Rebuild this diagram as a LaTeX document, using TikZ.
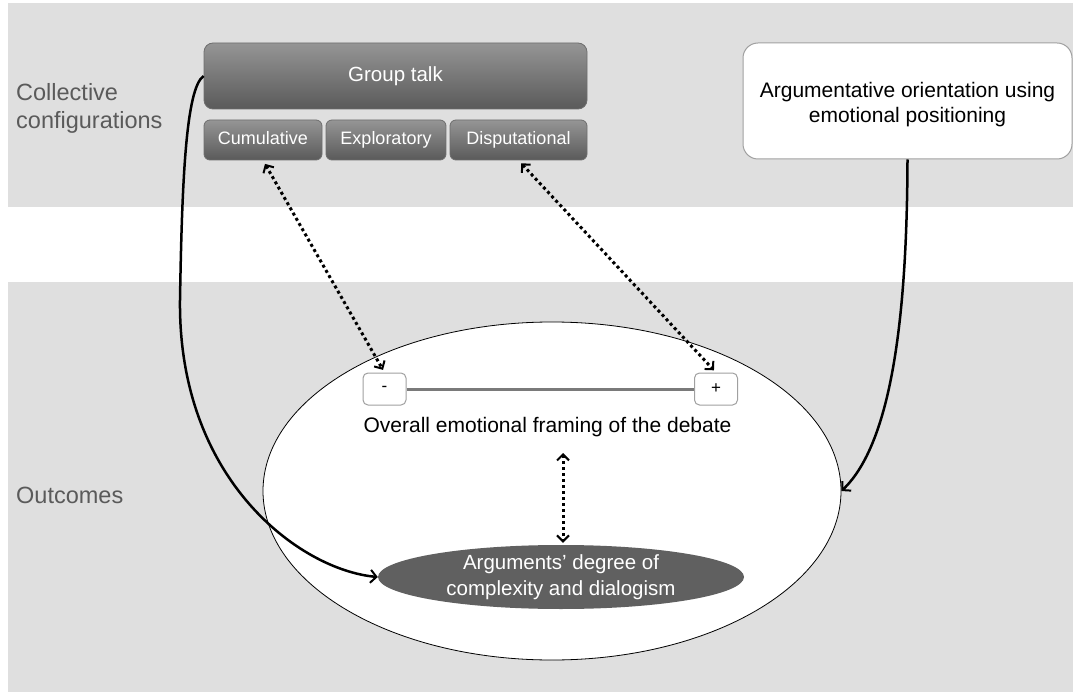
\documentclass[tikz,border=0pt]{standalone}
\usepackage{fontspec}
\setmainfont{Liberation Sans}
\usetikzlibrary{arrows.meta,shapes.geometric}
\definecolor{band}{HTML}{DFDFDF}
\definecolor{sidetxt}{HTML}{5A5A5A}
\definecolor{gtop}{HTML}{959595}
\definecolor{gbot}{HTML}{5A5A5A}
\definecolor{gedge}{HTML}{6E6E6E}
\definecolor{darkell}{HTML}{606060}
\definecolor{boxedge}{HTML}{A0A0A0}
\definecolor{scaleline}{HTML}{7A7A7A}
\tikzset{
  sidelabel/.style={anchor=west,inner sep=0pt,text=sidetxt,align=left,
    font=\fontsize{23.5}{28}\selectfont},
  graybox/.style={draw=gedge,line width=0.8pt,rounded corners=9pt,
    top color=gtop,bottom color=gbot,text=white,inner sep=0pt},
  subbox/.style={graybox,rounded corners=6pt,minimum height=40pt,
    text height=13pt,text depth=4pt,font=\fontsize{18}{21}\selectfont},
  whitebox/.style={draw=boxedge,line width=1pt,fill=white,rounded corners=15pt,
    inner sep=0pt},
  boxtext/.style={align=center,inner sep=0pt,yshift=-4pt,
    font=\fontsize{21}{25}\selectfont},
  pmbox/.style={draw=boxedge,line width=1pt,fill=white,rounded corners=5pt,
    minimum width=43pt,minimum height=32pt,inner sep=0pt,
    font=\fontsize{17}{20}\selectfont},
  dotarrow/.style={line width=3pt,dash pattern=on 3pt off 3pt,
    {Straight Barb[length=6pt,width=12pt,line width=2pt]}-{Straight Barb[length=6pt,width=12pt,line width=2pt]}},
  solidarrow/.style={line width=2.5pt,-{Straight Barb[length=6pt,width=13pt,line width=2pt]}}
}
\begin{document}
\begin{tikzpicture}[x=1pt,y=-1pt]
\useasboundingbox (0,0) rectangle (1073,692);
\fill[white] (0,0) rectangle (1073,692);
\fill[band] (8,3) rectangle (1073,207);
\fill[band] (8,282) rectangle (1073,692);

\node[sidelabel] (coll) at (16,108) {Collective\\configurations};
\node[sidelabel] (outc) at (16,495) {Outcomes};

% group talk
\node[graybox,minimum width=383pt,minimum height=66pt,
  font=\fontsize{20.5}{24}\selectfont] (gt) at (395.5,76) {Group talk};
\node[subbox,minimum width=118pt] (cum) at (263,140) {Cumulative};
\node[subbox,minimum width=120pt] (exp) at (386,140) {Exploratory};
\node[subbox,minimum width=137pt] (dis) at (518.5,140) {Disputational};

% right box
\node[whitebox,minimum width=329pt,minimum height=116pt,
  label={[boxtext]center:Argumentative orientation using\\emotional positioning}]
  (arg) at (907.5,101) {};

% big ellipse
\node[ellipse,draw=black,line width=0.8pt,fill=white,minimum width=578pt,
  minimum height=338pt,inner sep=0pt] (outer) at (552,491) {};

% scale
\node[pmbox] (minus) at (384.5,389) {-};
\node[pmbox] (plus) at (716,389) {+};
\draw[scaleline,line width=3pt] (minus.east) -- (plus.west);
\node[inner sep=0pt,font=\fontsize{21}{25}\selectfont] (frame) at (547.5,427)
  {Overall emotional framing of the debate};

% dark ellipse
\node[ellipse,fill=darkell,minimum width=366pt,minimum height=64pt,inner sep=0pt,
  text=white,align=center,font=\fontsize{20.5}{26}\selectfont] (cplx) at (561,577)
  {Arguments' degree of\\complexity and dialogism};

% connectors
\draw[dotarrow,shorten <=4pt,shorten >=3pt] (cum.south) -- (minus.north);
\draw[dotarrow,shorten <=4pt,shorten >=3pt] (dis.south) -- (plus.north);
\coordinate (vtop) at (563,453);
\draw[dotarrow,shorten >=2pt] (vtop) -- (cplx.north -| vtop);

\draw[solidarrow] (gt.west) .. controls (186,88) and (182,180) .. (180,300)
  .. controls (178,480) and (300,570) .. (cplx.west);
\draw[solidarrow] (arg.south) .. controls (907,300) and (895,440) .. (outer.east);
\end{tikzpicture}
\end{document}
